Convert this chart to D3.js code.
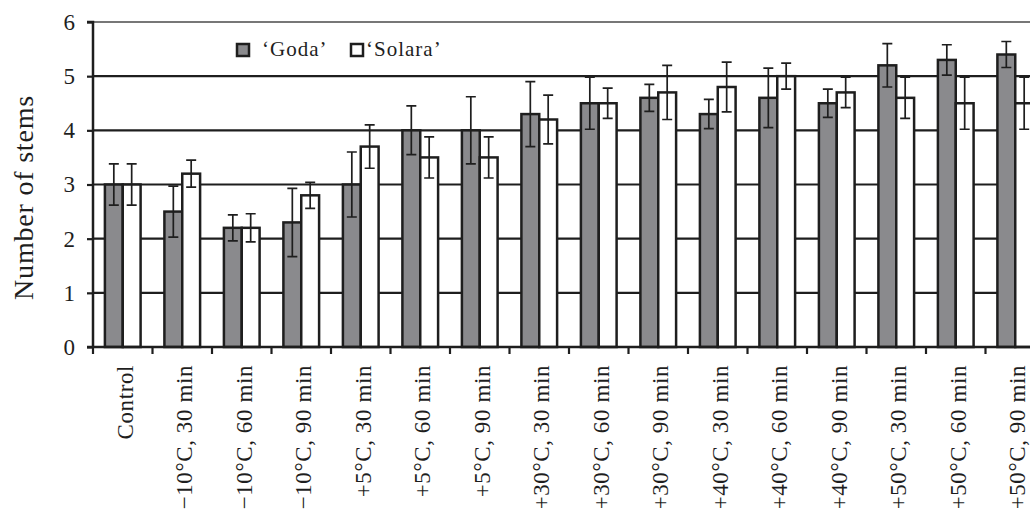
<!DOCTYPE html>
<html>
<head>
<meta charset="utf-8">
<script src="https://cdn.jsdelivr.net/npm/d3@7"></script>
<style>
	body { margin : 0; background : #fff; }
	svg  { display : block; font-family : 'Liberation Serif', 'Times New Roman', serif; }
</style>
</head>
<body>
<div id="chart"></div>
<script>
const categories = ['Control',
	'\u221210°C, 30 min', '\u221210°C, 60 min', '\u221210°C, 90 min',
	'+5°C, 30 min', '+5°C, 60 min', '+5°C, 90 min',
	'+30°C, 30 min', '+30°C, 60 min', '+30°C, 90 min',
	'+40°C, 30 min', '+40°C, 60 min', '+40°C, 90 min',
	'+50°C, 30 min', '+50°C, 60 min', '+50°C, 90 min'];

const series     = ['Goda', 'Solara'];
const godaVals   = [3.0, 2.5, 2.2, 2.3, 3.0, 4.0, 4.0, 4.3, 4.5, 4.6, 4.3, 4.6, 4.5, 5.2, 5.3, 5.4];
const godaErr    = [0.38, 0.47, 0.24, 0.63, 0.6, 0.45, 0.62, 0.6, 0.48, 0.25, 0.27, 0.55, 0.26, 0.4, 0.28, 0.24];
const solaraVals = [3.0, 3.2, 2.2, 2.8, 3.7, 3.5, 3.5, 4.2, 4.5, 4.7, 4.8, 5.0, 4.7, 4.6, 4.5, 4.5];
const solaraErr  = [0.38, 0.25, 0.26, 0.24, 0.4, 0.38, 0.38, 0.45, 0.28, 0.5, 0.46, 0.24, 0.28, 0.38, 0.48, 0.48];
const yTicks     = [0, 1, 2, 3, 4, 5, 6];

const width    = 1030;
const height   = 513;
const mLeft    = 93;
const mTop     = 22;
const mBottom  = 347;
const mRight   = 1045; // last group runs past the window edge

const ink  = '#1e1e1e';
const grey = '#8a8a8d';

const svg = d3.select( '#chart' )
	.append( 'svg' )
	.attr( 'width', width )
	.attr( 'height', height );

const x0 = d3.scaleBand()
	.domain( categories )
	.range( [mLeft, mRight] )
	.paddingInner( 0.4 )
	.paddingOuter( 0.2 );

const x1 = d3.scaleBand()
	.domain( series )
	.range( [0, x0.bandwidth()] );

const y = d3.scaleLinear()
	.domain( [0, 6] )
	.range( [mBottom, mTop] );

const fill = d3.scaleOrdinal( series, [grey, '#fff'] );

// grid
svg.append( 'g' )
	.selectAll( 'line' )
	.data( yTicks.filter( d => d > 0 ) )
	.join( 'line' )
	.attr( 'x1', mLeft )
	.attr( 'x2', mRight )
	.attr( 'y1', d => y( d ) )
	.attr( 'y2', d => y( d ) )
	.attr( 'stroke', d => d === 6 ? '#777' : ink )
	.attr( 'stroke-width', 2.2 );

// y axis
const yAxis = svg.append( 'g' )
	.attr( 'transform', `translate(${mLeft},0)` )
	.call( d3.axisLeft( y ).tickValues( yTicks ).tickFormat( d3.format( 'd' ) ).tickSize( 6 ).tickPadding( 12 ) );
yAxis.attr( 'font-family', null );
yAxis.select( '.domain' ).attr( 'stroke', ink ).attr( 'stroke-width', 2.5 ).attr( 'd', `M-6,${mTop}H0V${mBottom}` );
yAxis.selectAll( '.tick line' ).attr( 'stroke', ink ).attr( 'stroke-width', 2.2 );
yAxis.selectAll( '.tick text' )
	.attr( 'fill', ink )
	.attr( 'font-size', 23 );

// bars
const rows = categories.map( ( c, i ) => ( {
	cat  : c,
	vals : [
		{ key : 'Goda', v : godaVals[i], e : godaErr[i] },
		{ key : 'Solara', v : solaraVals[i], e : solaraErr[i] }
	]
} ) );

const groups = svg.append( 'g' )
	.selectAll( 'g' )
	.data( rows )
	.join( 'g' )
	.attr( 'transform', d => `translate(${x0( d.cat )},0)` );

groups.selectAll( 'rect' )
	.data( d => d.vals )
	.join( 'rect' )
	.attr( 'x', d => x1( d.key ) )
	.attr( 'y', d => y( d.v ) )
	.attr( 'width', x1.bandwidth() )
	.attr( 'height', d => y( 0 ) - y( d.v ) )
	.attr( 'fill', d => fill( d.key ) )
	.attr( 'stroke', ink )
	.attr( 'stroke-width', 2.5 );

const cap = 5;
const err = groups.selectAll( 'g.err' )
	.data( d => d.vals )
	.join( 'g' )
	.attr( 'class', 'err' )
	.attr( 'transform', d => `translate(${x1( d.key ) + x1.bandwidth() / 2},0)` );

err.append( 'path' )
	.attr( 'd', d => `M0,${y( d.v + d.e )}V${y( d.v - d.e )}` +
		`M${-cap},${y( d.v + d.e )}H${cap}M${-cap},${y( d.v - d.e )}H${cap}` )
	.attr( 'fill', 'none' )
	.attr( 'stroke', ink )
	.attr( 'stroke-width', 1.7 );

// x axis: line, ticks between groups, rotated labels
const step = x0.step();
const bounds = d3.range( categories.length + 1 ).map( i => mLeft + i * step );

svg.append( 'line' )
	.attr( 'x1', mLeft - 6 )
	.attr( 'x2', mRight )
	.attr( 'y1', mBottom )
	.attr( 'y2', mBottom )
	.attr( 'stroke', ink )
	.attr( 'stroke-width', 2.5 );

svg.append( 'g' )
	.selectAll( 'line' )
	.data( bounds )
	.join( 'line' )
	.attr( 'x1', d => d )
	.attr( 'x2', d => d )
	.attr( 'y1', mBottom )
	.attr( 'y2', mBottom + 7 )
	.attr( 'stroke', ink )
	.attr( 'stroke-width', 2.2 );

svg.append( 'g' )
	.selectAll( 'text' )
	.data( categories )
	.join( 'text' )
	.attr( 'transform', d => `translate(${x0( d ) + x0.bandwidth() / 2 + 2},${mBottom + 18}) rotate(-90)` )
	.attr( 'text-anchor', 'end' )
	.attr( 'dy', '0.35em' )
	.attr( 'font-size', 23 )
	.attr( 'letter-spacing', 0.6 )
	.attr( 'fill', ink )
	.text( d => d );

// y title
svg.append( 'text' )
	.attr( 'transform', `translate(33,${( mTop + mBottom ) / 2 + 13}) rotate(-90)` )
	.attr( 'text-anchor', 'middle' )
	.attr( 'font-size', 28 )
	.attr( 'letter-spacing', 0.8 )
	.attr( 'fill', ink )
	.text( 'Number of stems' );

// legend
const legend = svg.append( 'g' )
	.selectAll( 'g' )
	.data( series )
	.join( 'g' )
	.attr( 'transform', ( d, i ) => `translate(${237 + i * 114},44)` );

legend.append( 'rect' )
	.attr( 'width', 12 )
	.attr( 'height', 12 )
	.attr( 'fill', d => fill( d ) )
	.attr( 'stroke', ink )
	.attr( 'stroke-width', 2.5 );

legend.append( 'text' )
	.attr( 'x', ( d, i ) => i === 0 ? 25 : 15 )
	.attr( 'y', 12 )
	.attr( 'font-size', 21 )
	.attr( 'letter-spacing', 1 )
	.attr( 'fill', ink )
	.text( d => `\u2018${d}\u2019` );
</script>
</body>
</html>
